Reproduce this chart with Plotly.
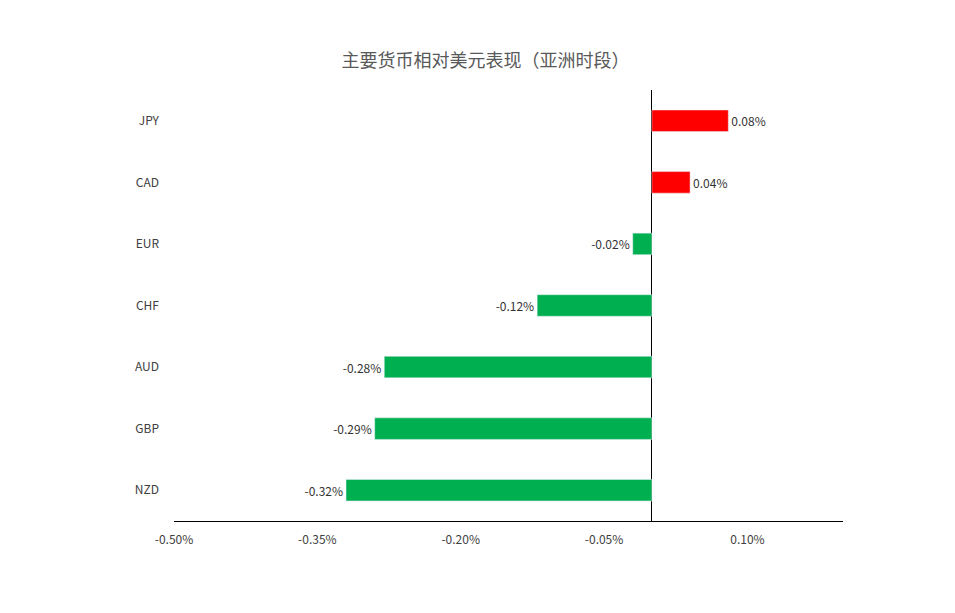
import plotly.graph_objects as go

currencies = ["NZD", "GBP", "AUD", "CHF", "EUR", "CAD", "JPY"]
values = [-0.32, -0.29, -0.28, -0.12, -0.02, 0.04, 0.08]
labels = ["-0.32%", "-0.29%", "-0.28%", "-0.12%", "-0.02%", "0.04%", "0.08%"]
tick_vals = [-0.5, -0.35, -0.2, -0.05, 0.1]
tick_text = ["-0.50%", "-0.35%", "-0.20%", "-0.05%", "0.10%"]

colors = ["#FF0000" if v > 0 else "#00B050" for v in values]

fig = go.Figure(go.Bar(
    x=values, y=currencies, orientation="h", marker_color=colors,
    width=0.35, text=labels, textposition="outside", cliponaxis=False,
    textfont=dict(size=12, color="#333"),
))
fig.update_layout(
    width=955, height=613, plot_bgcolor="white", paper_bgcolor="white",
    margin=dict(l=166, r=120, t=82, b=100),
    font=dict(family="Noto Sans CJK SC, Noto Sans", size=12, color="#404040"),
    title=dict(text="主要货币相对美元表现（亚洲时段）", x=0.5, xanchor="center",
               y=0.9135, yanchor="middle", font=dict(size=18, color="#595959")),
    showlegend=False,
)
fig.update_xaxes(range=[-0.5, 0.2], tickvals=tick_vals, ticktext=tick_text,
                 showgrid=False, zeroline=True, zerolinecolor="black", zerolinewidth=1,
                 showline=True, linecolor="black", ticks="", ticklabelstandoff=8)
fig.update_yaxes(showgrid=False, showline=False, ticks="", ticklabelstandoff=14,
                 range=[-0.5, 6.5])
fig.write_html("out.html")
